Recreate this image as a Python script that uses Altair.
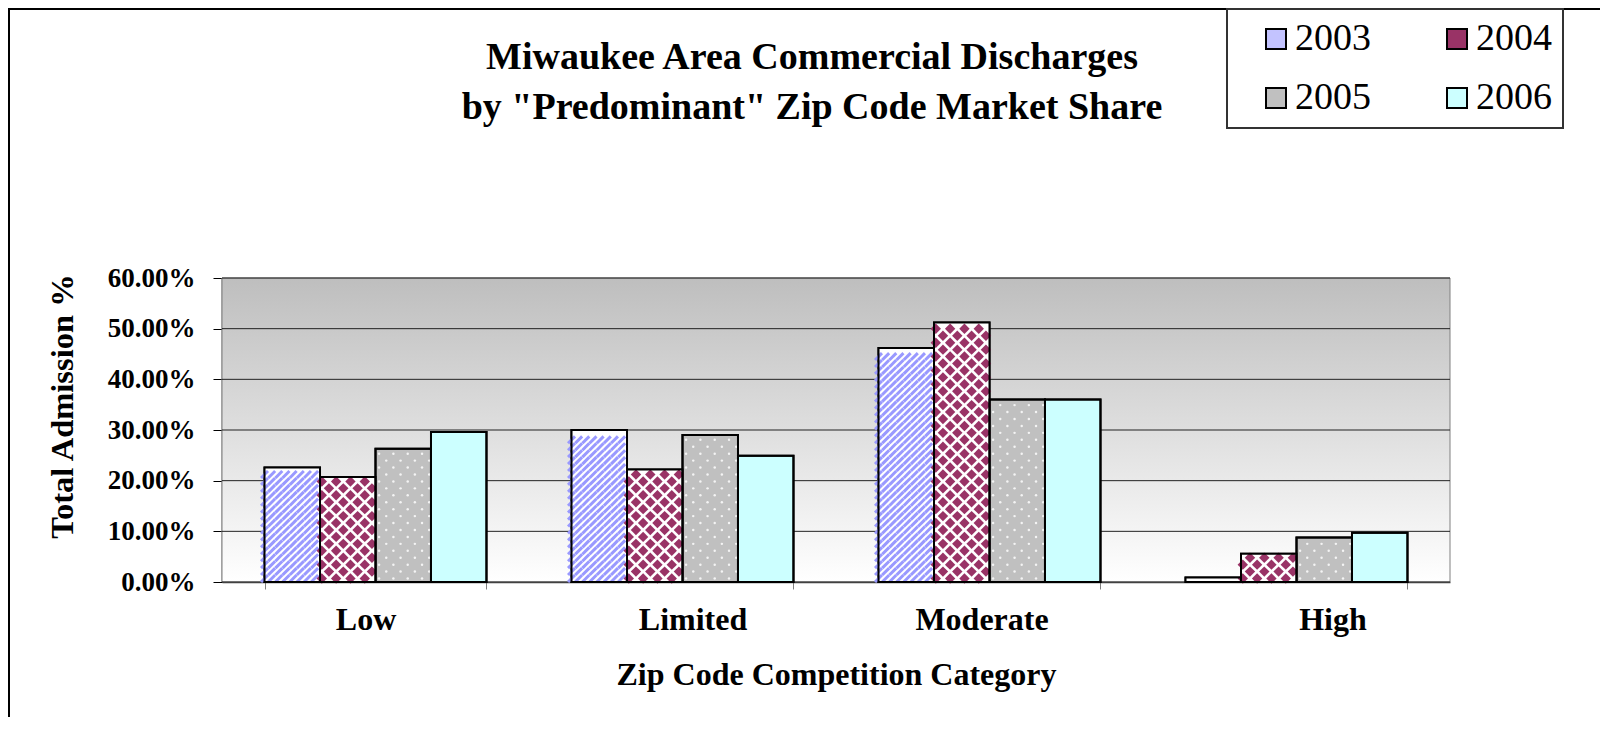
import altair as alt
import pandas as pd

# ---------------- data ----------------
categories = ["Low", "Limited", "Moderate", "High"]
years = ["2003", "2004", "2005", "2006"]
share_2003 = [0.226, 0.300, 0.462, 0.009]
share_2004 = [0.207, 0.222, 0.512, 0.056]
share_2005 = [0.263, 0.290, 0.360, 0.088]
share_2006 = [0.296, 0.249, 0.360, 0.097]
legend_colors = ["#C3C3FF", "#993366", "#C0C0C0", "#CCFFFF"]
y_ticks = [0.0, 0.1, 0.2, 0.3, 0.4, 0.5, 0.6]
title_lines = ["Miwaukee Area Commercial Discharges",
               'by "Predominant" Zip Code Market Share']
x_title = "Zip Code Competition Category"
y_title = "Total Admission %"

series = {"2003": share_2003, "2004": share_2004,
          "2005": share_2005, "2006": share_2006}
records = [{"cat": c, "year": y, "value": series[y][i]}
           for i, c in enumerate(categories) for y in years]
df = pd.DataFrame(records)
grid_df = pd.DataFrame({"t": y_ticks})

# ---------------- layout ----------------
W, H = 1228, 304
YMAX = 0.6
PAD_IN = 0.277
PAD_OUT = PAD_IN / 2
step = W / (len(categories) - PAD_IN + 2 * PAD_OUT)
bar_w = step * (1 - PAD_IN) / len(years)
NSUB = 8
cell = bar_w / NSUB
cell_v = cell / H * YMAX
subs = [f"{y}-{k}" for y in years for k in range(NSUB)]
FONT = "Liberation Serif"

x_scale = alt.Scale(domain=categories, paddingInner=PAD_IN, paddingOuter=PAD_OUT)
y_scale = alt.Scale(domain=[0, YMAX], nice=False, zero=True)

x_axis = alt.Axis(
    title=x_title, labelAngle=0, tickBand="extent", tickSize=7,
    tickColor="#808080", domainColor="#404040", domainWidth=1.5,
    labelFont=FONT, labelFontSize=32, labelFontWeight="bold",
    labelColor="black", labelBaseline="top", labelPadding=15,
    labelOffset={"condition": [
        {"test": "datum.value === 'Low'", "value": -10},
        {"test": "datum.value === 'Limited'", "value": 10},
        {"test": "datum.value === 'Moderate'", "value": -8},
        {"test": "datum.value === 'High'", "value": 36},
    ], "value": 0},
    titleFont=FONT, titleFontSize=32, titleFontWeight="bold",
    titleColor="black", titleX=W / 2, titleY=92, titleBaseline="middle",
    titleAlign="center", grid=False,
)
y_axis = alt.Axis(
    title=y_title, values=y_ticks, format=".2%", grid=False,
    tickSize=9, tickColor="black", domainColor="black", domainWidth=1.5,
    labelFont=FONT, labelFontSize=27, labelFontWeight="bold",
    labelColor="black", labelPadding=18,
    titleFont=FONT, titleFontSize=32.5, titleFontWeight="bold",
    titleColor="black", titleAngle=270, titleX=-160, titleY=128,
    titleAlign="center", titleBaseline="middle",
)


def X():
    return alt.X("cat:N", scale=x_scale, axis=x_axis, sort=categories)


def Y(field):
    return alt.Y(f"{field}:Q", scale=y_scale, axis=y_axis)


def off_year():
    return alt.XOffset("year:N", scale=alt.Scale(domain=years, paddingInner=0, paddingOuter=0))


def off_sub():
    return alt.XOffset("sub:N", scale=alt.Scale(domain=subs, paddingInner=0, paddingOuter=0))


def cells(year, parity=None):
    c = (alt.Chart(df)
         .transform_filter(alt.datum.year == year)
         .transform_calculate(r=f"sequence(0, floor(datum.value / {cell_v} + 0.0001))")
         .transform_flatten(["r"])
         .transform_calculate(k=f"sequence(0, {NSUB})")
         .transform_flatten(["k"]))
    if parity is not None:
        c = c.transform_filter(f"(datum.r + datum.k) % 2 == {parity}")
    return c.transform_calculate(
        sub="datum.year + '-' + datum.k",
        yc=f"(datum.r + 0.5) * {cell_v}",
    )


one = alt.Data(values=[{}])

# background gradient of plot area
background = alt.Chart(one).mark_rect(
    fill={"gradient": "linear", "x1": 0, "y1": 0, "x2": 0, "y2": 1,
          "stops": [{"offset": 0, "color": "#BEBEBE"},
                    {"offset": 1, "color": "#FFFFFF"}]},
    stroke="#808080", strokeWidth=1,
).encode(x=alt.value(0), x2=alt.value(W), y=alt.value(0), y2=alt.value(H))

grid = alt.Chart(grid_df).mark_rule(color="#222222", strokeWidth=1).encode(y=Y("t"))

bars = alt.Chart(df).mark_bar(stroke="black", strokeWidth=2).encode(
    x=X(), xOffset=off_year(), y=Y("value"),
    fill=alt.Fill("year:N", scale=alt.Scale(domain=years, range=legend_colors),
                  legend=alt.Legend(
                      orient="none", legendX=1005, legendY=-269, columns=2,
                      direction="horizontal",
                      title=None, symbolType="square", symbolSize=400,
                      symbolStrokeColor="black", symbolStrokeWidth=2,
                      symbolOffset=19, labelOffset=0, columnPadding=48,
                      rowPadding=21, padding=11, labelFont=FONT,
                      labelFontSize=38, labelColor="black",
                      fillColor="white", strokeColor="#333333")),
)

white_under = alt.Chart(df).transform_filter(
    "datum.year == '2003' || datum.year == '2004'"
).mark_bar(color="white", strokeWidth=0).encode(x=X(), xOffset=off_year(), y=Y("value"))

stripes = cells("2003").mark_point(
    shape="M-1,1L1,-1", filled=False, size=cell * cell, color="#9999FF",
    strokeWidth=3, opacity=1, strokeCap="butt",
).encode(x=X(), xOffset=off_sub(), y=Y("yc"))

diamonds = cells("2004", 0).mark_point(
    shape="diamond", filled=True, size=(1.5 * cell) ** 2, color="#993366", opacity=1,
).encode(x=X(), xOffset=off_sub(), y=Y("yc"))

dots = cells("2005", 0).mark_circle(size=6, color="#F4F4F4", opacity=1).encode(
    x=X(), xOffset=off_sub(), y=Y("yc"))

outline = alt.Chart(df).mark_bar(fillOpacity=0, stroke="black", strokeWidth=2).encode(
    x=X(), xOffset=off_year(), y=Y("value"))

title = alt.Chart(one).mark_text(
    text=title_lines, font=FONT, fontSize=38, fontWeight="bold", color="black",
    lineHeight=49.5, align="center", baseline="middle",
).encode(x=alt.value(590), y=alt.value(-220))

frame_top = alt.Chart(one).mark_rule(color="black", strokeWidth=2).encode(
    x=alt.value(-213), x2=alt.value(W + 200), y=alt.value(-269))
frame_left = alt.Chart(one).mark_rule(color="black", strokeWidth=2).encode(
    x=alt.value(-213), y=alt.value(-270), y2=alt.value(H + 200))

chart = alt.layer(
    background, grid, bars, white_under, stripes, diamonds, dots, outline,
    title, frame_top, frame_left,
).resolve_scale(xOffset="independent").properties(
    width=W, height=H,
    padding={"left": 214, "top": 270, "right": 150, "bottom": 135},
    autosize=alt.AutoSizeParams(type="none"),
).configure(font=FONT).configure_view(stroke="transparent").configure_legend(
    strokeWidth=2, labelFont=FONT
)

chart.save("out.html", embed_options={"renderer": "svg", "actions": False})
